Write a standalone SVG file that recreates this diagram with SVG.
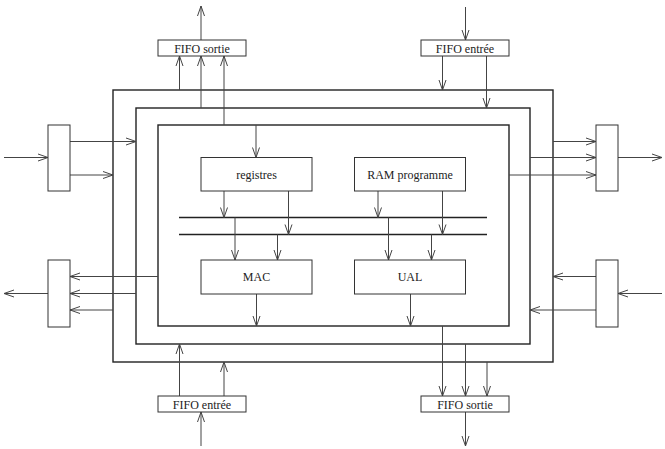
<svg xmlns="http://www.w3.org/2000/svg" width="665" height="449" viewBox="0 0 665 449">
<defs>
<marker id="ar" markerUnits="userSpaceOnUse" markerWidth="12" markerHeight="9" refX="10" refY="4" orient="auto" overflow="visible">
<path d="M0,0.5 L10,4 L0,7.5" fill="none" stroke="#444" stroke-width="1"/>
</marker>
<style>
.frame{fill:none;stroke:#222;stroke-width:1.4}
.box{fill:#fff;stroke:#333;stroke-width:1}
.w{fill:none;stroke:#333;stroke-width:1}
.a{fill:none;stroke:#444;stroke-width:1;marker-end:url(#ar)}
text{font-family:"Liberation Serif","Times New Roman",serif;font-size:12px;fill:#222;text-anchor:middle}
</style>
</defs>
<rect width="665" height="449" fill="#fff"/>
<g id="frames">
<rect id="outer" class="frame" x="113" y="90" width="440" height="272"/>
<rect id="middle" class="frame" x="136" y="108" width="394" height="236"/>
<rect id="inner" class="frame" x="158" y="125" width="351" height="201"/>
</g>
<g id="bus">
<line class="w" x1="179" y1="217.5" x2="487" y2="217.5" style="stroke:#222;stroke-width:1.3"/>
<line class="w" x1="179" y1="234.5" x2="487" y2="234.5" style="stroke:#222;stroke-width:1.3"/>
</g>
<g id="connectors">
<!-- top FIFO sortie -->
<line class="a" x1="201" y1="40" x2="201" y2="6"/>
<line class="a" x1="179.5" y1="90" x2="179.5" y2="56"/>
<line class="a" x1="201" y1="108" x2="201" y2="56"/>
<line class="a" x1="224" y1="125" x2="224" y2="56"/>
<line class="a" x1="256" y1="125" x2="256" y2="157.5"/>
<!-- top FIFO entree -->
<line class="a" x1="465.5" y1="7" x2="465.5" y2="40"/>
<line class="a" x1="442.5" y1="56" x2="442.5" y2="90"/>
<line class="a" x1="486.5" y1="56" x2="486.5" y2="108"/>
<!-- left top -->
<line class="a" x1="4" y1="157.5" x2="48" y2="157.5"/>
<line class="a" x1="70" y1="141.5" x2="136" y2="141.5"/>
<line class="a" x1="70" y1="175" x2="113" y2="175"/>
<!-- left bottom -->
<line class="a" x1="158" y1="276.5" x2="70" y2="276.5"/>
<line class="a" x1="136" y1="293.5" x2="70" y2="293.5"/>
<line class="a" x1="113" y1="310" x2="70" y2="310"/>
<line class="a" x1="48" y1="293.5" x2="4" y2="293.5"/>
<!-- right top -->
<line class="a" x1="553" y1="141.5" x2="596" y2="141.5"/>
<line class="a" x1="530" y1="157.5" x2="596" y2="157.5"/>
<line class="a" x1="509" y1="175" x2="596" y2="175"/>
<line class="a" x1="618" y1="157.5" x2="662" y2="157.5"/>
<!-- right bottom -->
<line class="a" x1="662" y1="293.5" x2="618" y2="293.5"/>
<line class="a" x1="596" y1="276.5" x2="553" y2="276.5"/>
<line class="a" x1="596" y1="310" x2="530" y2="310"/>
<!-- bottom FIFO entree -->
<line class="a" x1="201" y1="446" x2="201" y2="412"/>
<line class="a" x1="179.5" y1="396" x2="179.5" y2="344"/>
<line class="a" x1="224" y1="396" x2="224" y2="362"/>
<!-- bottom FIFO sortie -->
<line class="a" x1="442.5" y1="326" x2="442.5" y2="396"/>
<line class="a" x1="465.5" y1="344" x2="465.5" y2="396"/>
<line class="a" x1="487" y1="362" x2="487" y2="396"/>
<line class="a" x1="465.5" y1="412" x2="465.5" y2="446"/>
<!-- center -->
<line class="a" x1="224" y1="191" x2="224" y2="217.5"/>
<line class="a" x1="288.5" y1="191" x2="288.5" y2="234.5"/>
<line class="a" x1="378" y1="191" x2="378" y2="217.5"/>
<line class="a" x1="442.5" y1="191" x2="442.5" y2="234.5"/>
<line class="a" x1="235" y1="217.5" x2="235" y2="260"/>
<line class="a" x1="277.5" y1="234.5" x2="277.5" y2="260"/>
<line class="a" x1="388.5" y1="217.5" x2="388.5" y2="260"/>
<line class="a" x1="431.5" y1="234.5" x2="431.5" y2="260"/>
<line class="a" x1="256.5" y1="294" x2="256.5" y2="326"/>
<line class="a" x1="410.5" y1="294" x2="410.5" y2="326"/>
</g>
<g id="fifo-sortie-top"><rect class="box" x="158" y="40" width="88" height="16"/><text x="202" y="52.5">FIFO sortie</text></g>
<g id="fifo-entree-top"><rect class="box" x="421" y="40" width="88" height="16"/><text x="465" y="52.5">FIFO entrée</text></g>
<g id="fifo-entree-bottom"><rect class="box" x="158" y="396" width="88" height="16"/><text x="202" y="408.5">FIFO entrée</text></g>
<g id="fifo-sortie-bottom"><rect class="box" x="421" y="396" width="88" height="16"/><text x="465" y="408.5">FIFO sortie</text></g>
<g id="port-left-top"><rect class="box" x="48" y="125" width="22" height="66"/></g>
<g id="port-left-bottom"><rect class="box" x="48" y="260" width="22" height="67"/></g>
<g id="port-right-top"><rect class="box" x="596" y="125" width="22" height="66"/></g>
<g id="port-right-bottom"><rect class="box" x="596" y="260" width="22" height="67"/></g>
<g id="registres"><rect class="box" x="201" y="157.5" width="111" height="33.5"/><text x="256.5" y="178.5">registres</text></g>
<g id="ram"><rect class="box" x="354.5" y="157.5" width="111" height="33.5"/><text x="410" y="178.5">RAM programme</text></g>
<g id="mac"><rect class="box" x="201" y="260" width="111" height="34"/><text x="256.5" y="281">MAC</text></g>
<g id="ual"><rect class="box" x="354.5" y="260" width="111" height="34"/><text x="410" y="281">UAL</text></g>
</svg>
